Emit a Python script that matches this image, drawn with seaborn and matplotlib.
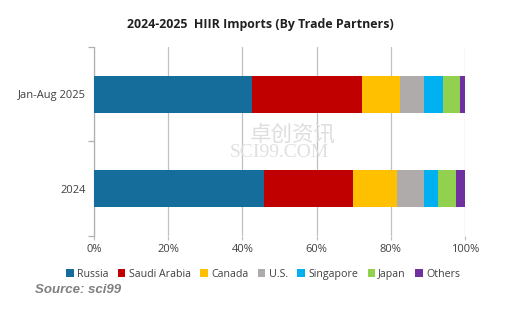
import matplotlib
matplotlib.use("Agg")
import matplotlib.pyplot as plt
import seaborn as sns
import pandas as pd
import numpy as np
from matplotlib.patches import Patch

periods = ["Jan-Aug 2025", "2024"]
partners = ["Russia", "Saudi Arabia", "Canada", "U.S.", "Singapore", "Japan", "Others"]
share_2025 = [42.6, 29.6, 10.3, 6.5, 5.0, 4.7, 1.3]
share_2024 = [45.8, 24.0, 11.9, 7.2, 3.8, 4.9, 2.4]
colors = ["#156d9b", "#c00000", "#ffc000", "#afabab", "#00b0f0", "#92d050", "#7030a0"]
xticks = [0, 20, 40, 60, 80, 100]
xticklabels = ["0%", "20%", "40%", "60%", "80%", "100%"]

sns.set_theme(style="white")
plt.rcParams['font.family'] = ['Open Sans', 'DejaVu Sans']

fig = plt.figure(figsize=(5.09, 3.09), dpi=100)
ax = fig.add_axes([0.1847, 0.2362, 0.7289, 0.6118])

rows = []
for p, vals in zip(periods, [share_2025, share_2024]):
    cum = np.cumsum(vals)
    for name, v, c in zip(partners, vals, cum):
        rows.append({"period": p, "partner": name, "share": v, "cum": c})
df = pd.DataFrame(rows)

# stacked: draw cumulative bars from the last series back to the first
for name, col in reversed(list(zip(partners, colors))):
    sub = df[df["partner"] == name]
    sns.barplot(data=sub, x="cum", y="period", order=periods, color=col,
                width=0.39, ax=ax, saturation=1, linewidth=0, orient="h", zorder=3)

ax.set_xlim(0, 100)
ax.set_ylim(1.5, -0.5)
ax.set_xticks(xticks)
ax.set_xticklabels(xticklabels, fontsize=8, color="#404040")
ax.set_yticks([0, 1])
ax.set_yticklabels(periods, fontsize=8, color="#404040")
ax.set_xlabel("")
ax.set_ylabel("")
ax.grid(axis="x", which="major", visible=True, color="#c0c0c0", linewidth=0.9, zorder=1)
ax.set_axisbelow(True)
for s in ["top", "right", "bottom"]:
    ax.spines[s].set_visible(False)
ax.spines["left"].set_color("#b0b0b0")
ax.spines["left"].set_linewidth(0.9)
ax.tick_params(axis="x", which="major", length=3, direction="out", color="#c0c0c0",
               width=0.9, pad=3, bottom=True)
ax.tick_params(axis="y", which="major", length=0, pad=6)
# minor y ticks at category boundaries
ax.set_yticks([-0.5, 0.5, 1.5], minor=True)
ax.tick_params(axis="y", which="minor", length=4, color="#b0b0b0", width=0.9, left=True)

fig.text(0.512, 0.922, "2024-2025  HIIR Imports (By Trade Partners)", ha="center",
         va="center", fontsize=8.9, fontweight="bold", color="#202020")

# watermark
ax.text(53.6, 0.43, "卓创资讯", fontsize=15.5, color="#dedede", ha="center", va="center",
        family=["Noto Sans CJK SC", "DejaVu Sans"], zorder=2)
ax.text(50, 0.62, "SCI99.COM", fontsize=14, color="#e0e0e0", ha="center", va="center",
        family=["Liberation Serif", "DejaVu Serif"], zorder=2)

handles = [Patch(facecolor=c, edgecolor="none", label=n) for n, c in zip(partners, colors)]
fig.legend(handles=handles, loc="center", bbox_to_anchor=(0.517, 0.113), ncol=7,
           frameon=False, fontsize=7.7, handlelength=0.7, handleheight=0.7,
           handletextpad=0.3, columnspacing=0.9, labelcolor="#404040")

fig.text(0.068, 0.063, "Source: sci99", fontsize=9.5, fontweight="bold", fontstyle="italic",
         color="#7f7f7f", ha="left", va="center", family=["Liberation Sans", "DejaVu Sans"])

fig.savefig("out.png", dpi=100)
